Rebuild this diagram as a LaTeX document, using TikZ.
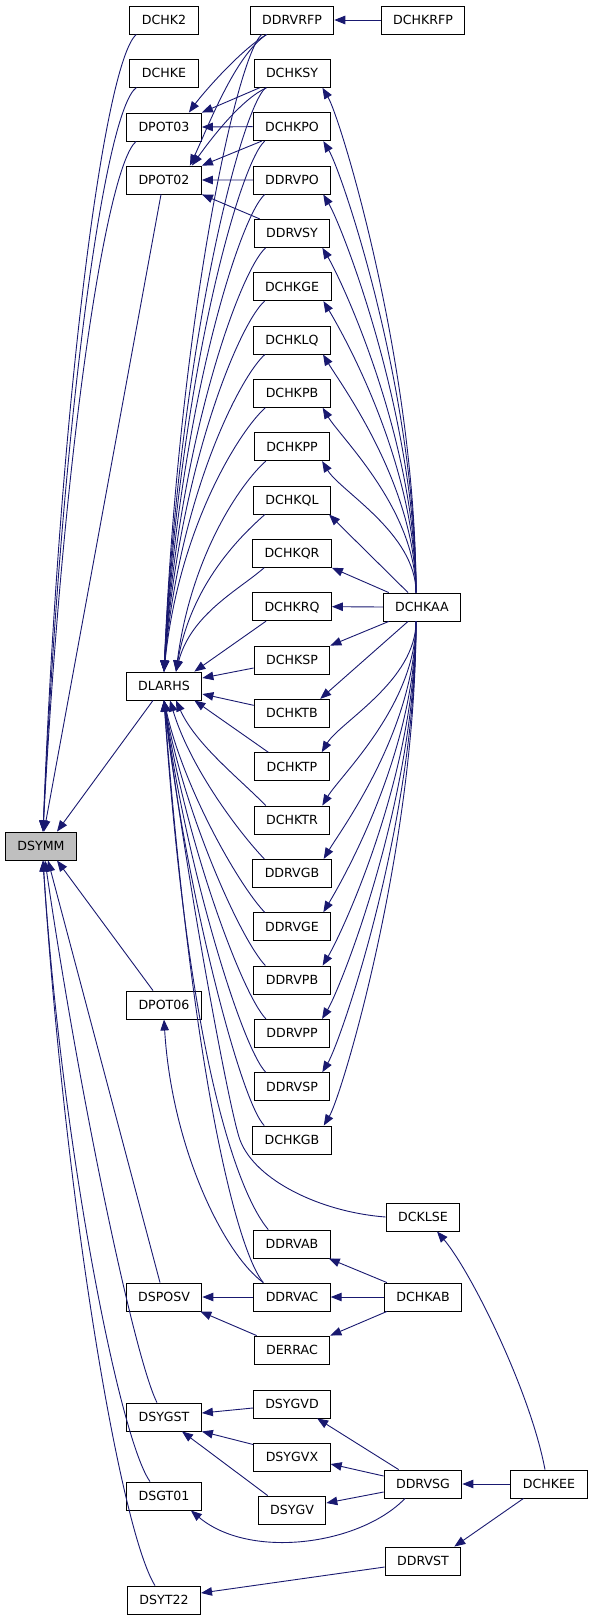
\documentclass[tikz,border=0pt]{standalone}
\usepackage{fontspec}
\setmainfont{DejaVu Sans}
\usetikzlibrary{arrows.meta,calc}
\definecolor{edgeblue}{HTML}{191970}
\definecolor{rootgray}{HTML}{BFBFBF}
\begin{document}
\begin{tikzpicture}[x=1pt,y=-1pt,
  box/.style={draw=black,line width=0.9pt,fill=white,minimum height=28pt,
    inner xsep=12pt,inner ysep=0pt,text height=9.2pt,text depth=0pt,
    font=\fontsize{12.6}{14}\selectfont},
  edge/.style={draw=edgeblue,line width=0.9pt,-{Triangle[length=11pt,width=8.5pt]}}]
\useasboundingbox (0,0) rectangle (592,1620);

% left column
\node[box] (DCHK2) at (164,20) {DCHK2};
\node[box] (DCHKE) at (164,73) {DCHKE};
\node[box] (DPOT03) at (164,127) {DPOT03};
\node[box] (DPOT02) at (164,180) {DPOT02};
\node[box] (DLARHS) at (164,686) {DLARHS};
\node[box] (DPOT06) at (164,1005) {DPOT06};
\node[box] (DSPOSV) at (164,1297) {DSPOSV};
\node[box] (DSYGST) at (164,1417) {DSYGST};
\node[box] (DSGT01) at (164,1496) {DSGT01};
\node[box] (DSYT22) at (164,1600) {DSYT22};
\node[box,fill=rootgray] (DSYMM) at (41,846) {DSYMM};

% right column
\foreach \n [count=\i from 0] in {DDRVRFP,DCHKSY,DCHKPO,DDRVPO,DDRVSY,DCHKGE,DCHKLQ,DCHKPB,DCHKPP,DCHKQL,DCHKQR,DCHKRQ,DCHKSP,DCHKTB,DCHKTP,DCHKTR,DDRVGB,DDRVGE,DDRVPB,DDRVPP,DDRVSP,DCHKGB}
  \node[box] (\n) at (292,{20+53.333*\i}) {\n};
\node[box] (DDRVAB) at (292,1244) {DDRVAB};
\node[box] (DDRVAC) at (292,1297) {DDRVAC};
\node[box] (DERRAC) at (292,1350) {DERRAC};
\node[box] (DSYGVD) at (292,1404) {DSYGVD};
\node[box] (DSYGVX) at (292,1457) {DSYGVX};
\node[box] (DSYGV) at (292,1510) {DSYGV};

% third column
\node[box] (DCHKRFP) at (423,20) {DCHKRFP};
\node[box] (DCHKAA) at (422,607) {DCHKAA};
\node[box] (DCKLSE) at (423,1217) {DCKLSE};
\node[box] (DCHKAB) at (423,1297) {DCHKAB};
\node[box] (DDRVSG) at (423,1484) {DDRVSG};
\node[box] (DDRVST) at (423,1561) {DDRVST};
\node[box] (DCHKEE) at (549,1484) {DCHKEE};

% ---- edges into DSYMM
\draw[edge] ($(DCHK2.south west)+(7,0)$) .. controls +(-32,26) and +(17,-432) .. ($(DSYMM.north)+(2,0)$);
\draw[edge] ($(DCHKE.south west)+(7,0)$) .. controls +(-32,23) and +(19,-412) .. ($(DSYMM.north)+(2,0)$);
\draw[edge] ($(DPOT03.south west)+(10,0)$) .. controls +(-29,24) and +(21,-392) .. ($(DSYMM.north)+(2,0)$);
\draw[edge] ($(DPOT02.south)+(-3,0)$) -- ($(DSYMM.north)+(3,0)$);
\draw[edge] ($(DLARHS.south)+(-11,0)$) -- ($(DSYMM.north)+(16,0)$);
\draw[edge] ($(DPOT06.north)+(-11,0)$) -- ($(DSYMM.south)+(16,0)$);
\draw[edge] ($(DSPOSV.north)+(-4,0)$) -- ($(DSYMM.south)+(7,0)$);
\draw[edge] ($(DSYGST.north)+(-7,0)$) .. controls +(-22,-43) and +(35,240) .. ($(DSYMM.south)+(4,0)$);
\draw[edge] ($(DSGT01.north)+(-14,0)$) .. controls +(-30,-42) and +(19,290) .. ($(DSYMM.south)+(2,0)$);
\draw[edge] ($(DSYT22.north)+(-9,0)$) .. controls +(-35,-56) and +(22,340) .. ($(DSYMM.south)+(2,0)$);

% ---- edges into DLARHS from above
\foreach \n [count=\i from 0] in {DDRVRFP,DCHKSY,DCHKPO,DDRVPO,DDRVSY,DCHKGE,DCHKLQ,DCHKPB,DCHKPP,DCHKQL,DCHKQR}{
  \pgfmathsetmacro\cy{-0.55*(672-(34+53.333*\i))}
  \pgfmathsetmacro\ex{\i<8?0:12}
  \draw[edge] ($(\n.south west)+(12,0)$) .. controls +(-25,22) and +(15,\cy) .. ($(DLARHS.north)+(\ex,0)$);
}
\draw[edge] ($(DCHKRQ.south west)+(14,0)$) -- ($(DLARHS.north east)+(-8,0)$);
\draw[edge] ($(DCHKSP.west)+(0,8)$) -- ($(DLARHS.east)+(0,-8)$);
\draw[edge] ($(DCHKTB.west)+(0,-8)$) -- ($(DLARHS.east)+(0,8)$);
\draw[edge] ($(DCHKTP.north west)+(14,0)$) -- ($(DLARHS.south east)+(-8,0)$);
% ---- edges into DLARHS from below
\foreach \n/\i/\ex in {DCHKTR/15/12,DDRVGB/16/6,DDRVGE/17/0,DDRVPB/18/0,DDRVPP/19/0,DDRVSP/20/0,DCHKGB/21/0}{
  \pgfmathsetmacro\cy{0.42*((20+53.333*\i-14)-700)}
  \draw[edge] ($(\n.north west)+(12,0)$) .. controls +(-25,-26) and +(20,\cy) .. ($(DLARHS.south)+(\ex,0)$);
}
\draw[edge] (DCKLSE.west) .. controls (320,1212) and (255,1180) .. (240,1140)
  .. controls (229,1110) and (185,870) .. (DLARHS.south);
\draw[edge] ($(DDRVAB.north west)+(15,0)$) .. controls (243,1200) and (190,1080) .. (DLARHS.south);
\draw[edge] ($(DDRVAC.north west)+(10,0)$) .. controls (240,1255) and (195,1100) .. (DLARHS.south);

% ---- DPOT03 / DPOT02
\draw[edge] ($(DDRVRFP.south west)+(17,0)$) .. controls +(-27,16) and +(13,-18) .. ($(DPOT03.north east)+(-13,0)$);
\draw[edge] ($(DDRVRFP.south west)+(17,0)$) .. controls +(-32,21) and +(17,-36) .. ($(DPOT02.north east)+(-12,0)$);
\draw[edge] ($(DCHKSY.south west)+(6,0)$) -- (DPOT03.north east);
\draw[edge] ($(DCHKSY.south west)+(13,0)$) .. controls +(-27,12) and +(15,-21) .. ($(DPOT02.north east)+(-10,0)$);
\draw[edge] (DCHKPO.west) -- (DPOT03.east);
\draw[edge] ($(DCHKPO.south west)+(9,0)$) -- (DPOT02.north east);
\draw[edge] (DDRVPO.west) -- (DPOT02.east);
\draw[edge] ($(DDRVSY.north west)+(6,0)$) -- (DPOT02.south east);
\draw[edge] (DCHKRFP.west) -- (DDRVRFP.east);

% ---- DCHKAA
\foreach \n [count=\i from 1] in {DCHKSY,DCHKPO,DDRVPO,DDRVSY,DCHKGE,DCHKLQ,DCHKPB,DCHKPP}{
  \pgfmathsetmacro\cy{-0.45*(592-(34+53.333*\i))}
  \draw[edge] ($(DCHKAA.north)+(-6,0)$) .. controls +(0,\cy) and +(18,30) .. ($(\n.south east)+(-8,0)$);
}
\draw[edge] ($(DCHKAA.north)+(-14,0)$) -- ($(DCHKQL.south east)+(-2,0)$);
\draw[edge] ($(DCHKAA.north west)+(6,0)$) -- (DCHKQR.south east);
\draw[edge] (DCHKAA.west) -- (DCHKRQ.east);
\draw[edge] ($(DCHKAA.south west)+(6,0)$) -- (DCHKSP.north east);
\draw[edge] ($(DCHKAA.south)+(-14,0)$) -- ($(DCHKTB.north east)+(-10,0)$);
\foreach \n [count=\i from 14] in {DCHKTP,DCHKTR,DDRVGB,DDRVGE,DDRVPB,DDRVPP,DDRVSP,DCHKGB}{
  \pgfmathsetmacro\cy{0.45*((20+53.333*\i-14)-621)}
  \draw[edge] ($(DCHKAA.south)+(-6,0)$) .. controls +(0,\cy) and +(18,-30) .. ($(\n.north east)+(-8,0)$);
}

% ---- lower part
\draw[edge] ($(DDRVAC.north west)+(10,0)$) .. controls (225,1255) and (172,1150) .. (DPOT06.south);
\draw[edge] (DDRVAC.west) -- (DSPOSV.east);
\draw[edge] ($(DERRAC.north west)+(3,0)$) -- ($(DSPOSV.south east)+(-2,0)$);
\draw[edge] ($(DCHKAB.north west)+(3,0)$) -- ($(DDRVAB.south east)+(-2,0)$);
\draw[edge] (DCHKAB.west) -- (DDRVAC.east);
\draw[edge] ($(DCHKAB.south west)+(3,0)$) -- (DERRAC.north east);
\draw[edge] ($(DCHKEE.north)+(-4,0)$) .. controls (530,1390) and (470,1270) .. ($(DCKLSE.south)+(14,0)$);
\draw[edge] (DCHKEE.west) -- (DDRVSG.east);
\draw[edge] ($(DCHKEE.south west)+(13,0)$) -- ($(DDRVST.north east)+(-7,0)$);
\draw[edge] ($(DDRVSG.north west)+(15,0)$) -- ($(DSYGVD.south east)+(-14,0)$);
\draw[edge] ($(DDRVSG.west)+(0,-8)$) -- ($(DSYGVX.east)+(0,7)$);
\draw[edge] ($(DDRVSG.west)+(0,8)$) -- ($(DSYGV.east)+(0,-7)$);
\draw[edge] ($(DDRVSG.south)+(-18,0)$) .. controls (360,1545) and (250,1560) .. ($(DSGT01.south east)+(-11,0)$);
\draw[edge] ($(DDRVST.west)+(0,6)$) -- ($(DSYT22.east)+(0,-7)$);
\draw[edge] ($(DSYGVD.west)+(0,4)$) -- ($(DSYGST.east)+(0,-4)$);
\draw[edge] ($(DSYGVX.north west)+(0,2)$) -- (DSYGST.south east);
\draw[edge] ($(DSYGV.north west)+(10,0)$) -- ($(DSYGST.south)+(18,0)$);
\end{tikzpicture}
\end{document}
